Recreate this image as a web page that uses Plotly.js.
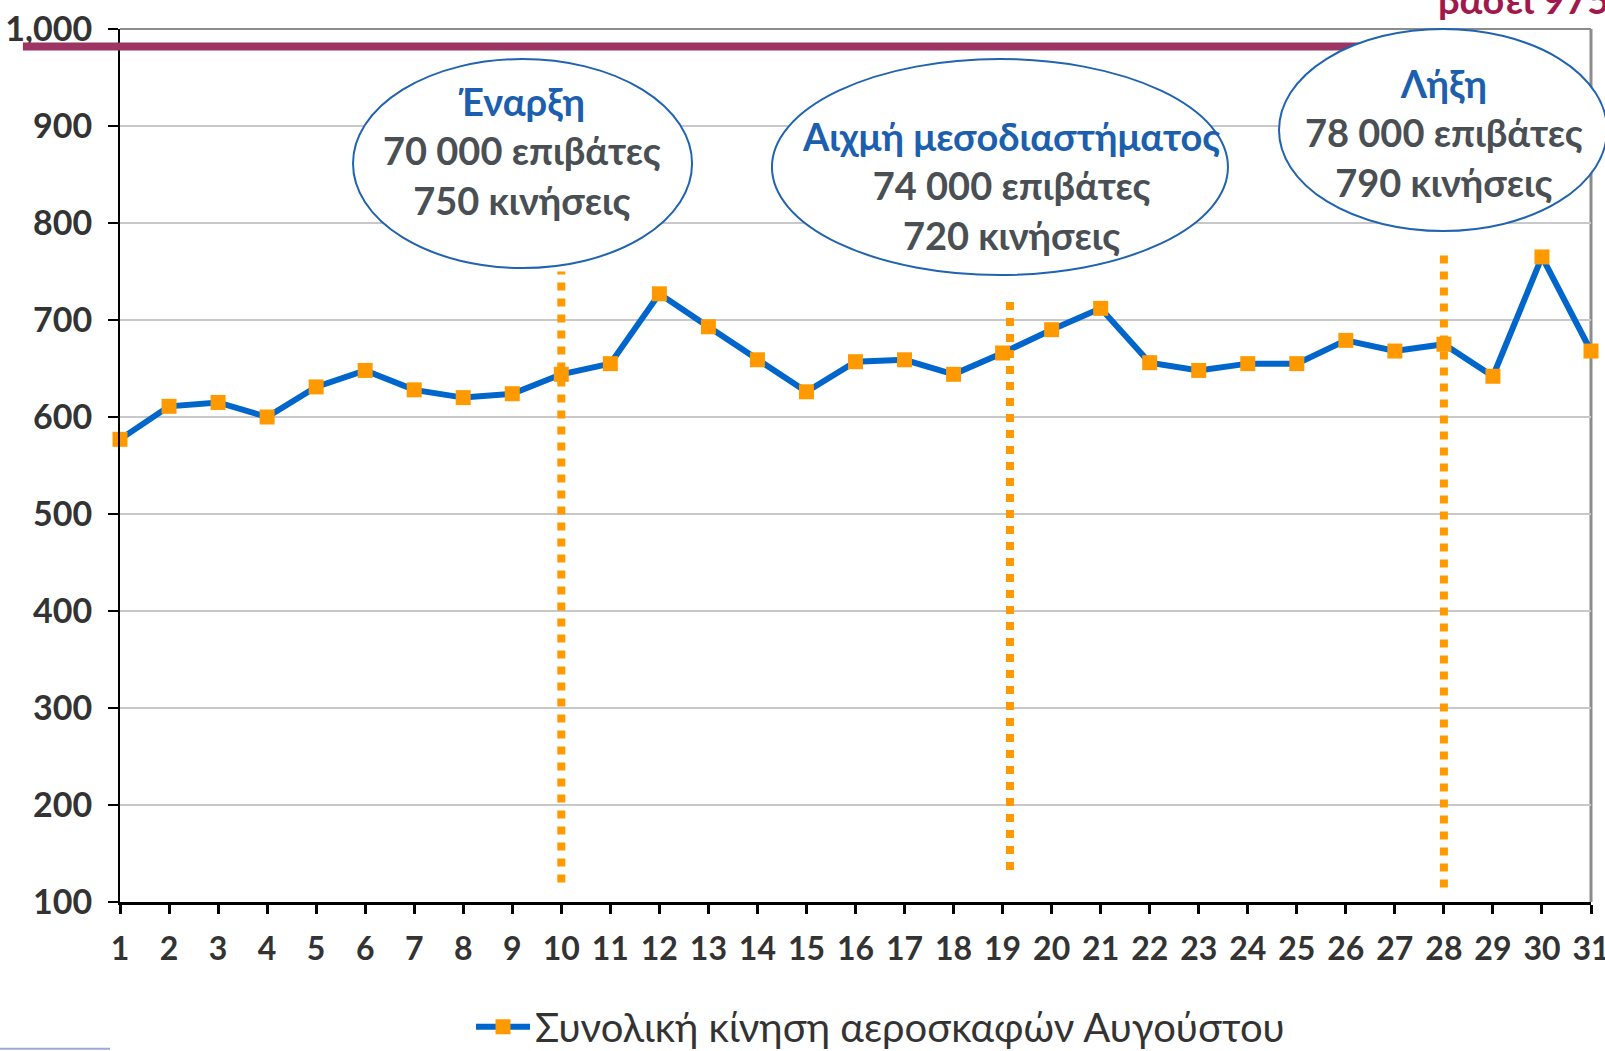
<!DOCTYPE html>
<html>
<head>
<meta charset="utf-8">
<script src="https://cdn.plot.ly/plotly-3.0.1.min.js"></script>
<style>
  html, body { margin: 0; padding: 0; background: #fff; }
  #chart { width: 1605px; height: 1051px; }
</style>
</head>
<body>
<div id="chart"></div>
<script>
// ημέρες Αυγούστου και συνολικές κινήσεις αεροσκαφών
const days = [1,2,3,4,5,6,7,8,9,10,11,12,13,14,15,16,17,18,19,20,21,22,23,24,25,26,27,28,29,30,31];
const movements = [577,611,615,600,631,648,628,620,624,644,655,727,693,659,626,657,659,644,666,690,712,656,648,655,655,679,668,675,642,765,668];

const yTickVals = [100,200,300,400,500,600,700,800,900,1000];
const yTickText = ["100","200","300","400","500","600","700","800","900","1,000"];

// διακεκομμένες γραμμές φάσεων (ημέρα, από, έως)
const phaseDays = [10, 19.15, 28];
const phaseTop = [750, 722, 771];
const phaseBottom = [120, 133, 115];

// γραμμή βάσης (975 κινήσεις)
const baseLevel = 982;

// κείμενα φάσεων
const phaseTitles = ["Έναρξη", "Αιχμή μεσοδιαστήματος", "Λήξη"];
const phasePax = ["70 000 επιβάτες", "74 000 επιβάτες", "78 000 επιβάτες"];
const phaseMov = ["750 κινήσεις", "720 κινήσεις", "790 κινήσεις"];

const FONT = "Lato, 'Open Sans', sans-serif";
const BLUE = "#1c5fae";
const GREY_TXT = "#4a4f54";

// ελλείψεις σε συντεταγμένες paper
const ellipses = [
  { x0: 0.1584, x1: 0.3889, y0: 0.7262, y1: 0.9656, tx: 0.273, ty: 0.861 },
  { x0: 0.4432, x1: 0.7532, y0: 0.7182, y1: 0.9656, tx: 0.6057, ty: 0.821 },
  { x0: 0.7879, x1: 1.0109, y0: 0.7686, y1: 1.0, tx: 0.9, ty: 0.882 }
];

const shapes = [];
const annotations = [];

// γραμμή βάσης, κάτω από τις ελλείψεις
shapes.push({
  type: "line", xref: "paper", yref: "y",
  x0: -0.066, x1: 0.87, y0: baseLevel, y1: baseLevel,
  line: { color: "#9c3464", width: 8 }
});

phaseDays.forEach((d, i) => {
  shapes.push({
    type: "line", xref: "x", yref: "y",
    x0: d, x1: d, y0: phaseBottom[i], y1: phaseTop[i],
    line: { color: "#ff9900", width: 8, dash: "8px,8px" }
  });
});

ellipses.forEach((e, i) => {
  shapes.push({
    type: "circle", xref: "paper", yref: "paper",
    x0: e.x0, x1: e.x1, y0: e.y0, y1: e.y1,
    fillcolor: "#ffffff",
    line: { color: "#2063b0", width: 2 }
  });
  annotations.push({
    xref: "paper", yref: "paper", x: e.tx, y: e.ty,
    xanchor: "center", yanchor: "middle", showarrow: false,
    text: `<span style="color:${BLUE}">${phaseTitles[i]}</span><br>${phasePax[i]}<br>${phaseMov[i]}`,
    font: { family: FONT, size: 38, color: GREY_TXT, weight: "bold" },
    align: "center"
  });
});

// κομμένο κείμενο πάνω δεξιά (όπως στο πρωτότυπο)
annotations.push({
  xref: "paper", yref: "paper", x: 0.8946, y: 1.034,
  xanchor: "left", yanchor: "middle", showarrow: false,
  text: "βάσει 975 κινήσεις",
  font: { family: FONT, size: 38, color: "#a0184c", weight: "bold" }
});

// λεπτή γραμμή κάτω αριστερά
shapes.push({
  type: "line", xref: "paper", yref: "paper",
  x0: -0.0816, x1: -0.0068, y0: -0.168, y1: -0.168,
  line: { color: "#9aaad8", width: 2 }
});

const trace = {
  x: days,
  y: movements,
  type: "scatter",
  mode: "lines+markers",
  name: "Συνολική κίνηση αεροσκαφών Αυγούστου",
  line: { color: "#0066cc", width: 6 },
  marker: { symbol: "square", size: 15, color: "#ff9900" },
  cliponaxis: false
};

const layout = {
  width: 1605,
  height: 1051,
  paper_bgcolor: "#ffffff",
  plot_bgcolor: "#ffffff",
  margin: { l: 120, r: 14, t: 29, b: 149, autoexpand: false },
  font: { family: FONT, color: "#333333" },
  showlegend: true,
  legend: {
    orientation: "h", x: 0.517, xanchor: "center", y: -0.143, yanchor: "middle",
    font: { family: FONT, size: 40, color: "#333333" },
    itemwidth: 54
  },
  xaxis: {
    range: [1, 31],
    tickmode: "array",
    tickvals: days,
    ticktext: days.map(String),
    showgrid: false,
    zeroline: false,
    showline: true,
    linecolor: "#000000",
    linewidth: 3,
    ticks: "outside",
    ticklen: 9,
    tickwidth: 3,
    tickcolor: "#000000",
    ticklabelstandoff: 8,
    ticklabeloverflow: "allow",
    tickfont: { family: FONT, size: 32, color: "#333333", weight: "bold" }
  },
  yaxis: {
    range: [100, 1000],
    tickmode: "array",
    tickvals: yTickVals,
    ticktext: yTickText,
    showgrid: true,
    gridcolor: "#c8c8c8",
    gridwidth: 1.5,
    zeroline: false,
    showline: true,
    linecolor: "#000000",
    linewidth: 2,
    ticks: "outside",
    ticklen: 10,
    tickwidth: 2,
    tickcolor: "#000000",
    ticklabelstandoff: 9,
    ticklabeloverflow: "allow",
    tickfont: { family: FONT, size: 34, color: "#333333", weight: "bold" }
  },
  shapes: shapes.concat([
    // γκρι περίγραμμα πάνω και δεξιά
    { type: "line", xref: "paper", yref: "paper", x0: 0, x1: 1, y0: 1, y1: 1, line: { color: "#8c8c8c", width: 2 }, layer: "below" },
    { type: "line", xref: "paper", yref: "paper", x0: 1, x1: 1, y0: 0, y1: 1, line: { color: "#8c8c8c", width: 3 }, layer: "below" }
  ]),
  annotations: annotations
};

Plotly.newPlot("chart", [trace], layout, { displayModeBar: false, staticPlot: true });
</script>
</body>
</html>
